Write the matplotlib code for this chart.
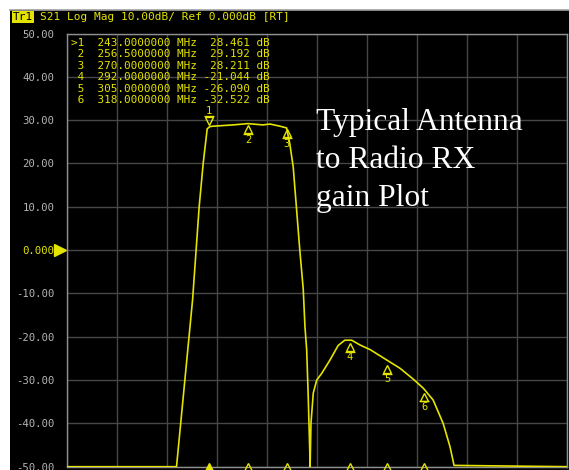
import numpy as np
import matplotlib.pyplot as plt
from matplotlib.patches import Rectangle
import matplotlib.transforms as mtransforms

# trace (MHz, dB)
freq = [193.4, 231.6, 237.2, 239.5, 240.9, 242.3, 243.2, 244.3, 251.3, 256.5,
        261.7, 264.2, 267.7, 270.0, 271.1, 272.3, 273.5, 274.6, 275.8, 276.4,
        277.0, 277.5, 278.1, 278.2, 278.5, 279.3, 280.5, 282.2, 285.1, 288.0,
        290.3, 292.7, 295.6, 299.2, 305.0, 309.6, 314.2, 317.7, 321.1, 324.6,
        327.0, 328.4, 367.8]
gain = [-50, -50, -11.5, 10, 20, 28, 28.5, 28.6, 28.9, 29.2,
        28.9, 29.1, 28.6, 28.2, 24.6, 19.2, 9.2, 0, -9, -17.7,
        -23, -33, -47, -50, -40, -33, -30, -28.5, -25.4, -22,
        -20.8, -20.8, -21.9, -23, -25.4, -27.3, -29.8, -31.9, -34.6, -40,
        -45.4, -49.7, -50]

mk_id = ['1', '2', '3', '4', '5', '6']
mk_freq = [243.0, 256.5, 270.0, 292.0, 305.0, 318.0]
mk_db = [28.461, 29.192, 28.211, -21.044, -26.090, -32.522]

yticks = [50, 40, 30, 20, 10, 0, -10, -20, -30, -40, -50]

W, H = 569, 470
YEL = '#e4e400'
GRAY = '#b4b4b4'
MONO = 'DejaVu Sans Mono'

fig = plt.figure(figsize=(W / 100, H / 100), dpi=100)
fig.patch.set_facecolor('white')
fig.add_artist(Rectangle((10 / W, 0), 1, (H - 10) / H, transform=fig.transFigure,
                         facecolor='black', edgecolor='none', zorder=-10))
fig.add_artist(plt.Line2D([10 / W, 1], [1 - 9.5 / H, 1 - 9.5 / H], transform=fig.transFigure,
                          color='#a0a0a0', lw=1.2, zorder=-5))

def fx(px):
    return px / W

def fy(py):
    return 1 - py / H

ax = fig.add_axes([fx(67), fy(466.7), fx(567) - fx(67), fy(33.5) - fy(466.7)])
ax.set_facecolor('black')
ax.set_xlim(193.4, 367.8)
ax.set_ylim(-50, 50)
ax.set_xticks(np.linspace(193.4, 367.8, 11))
ax.set_xticklabels([])
ax.set_yticks(yticks)
ax.set_yticklabels(['0.000' if v == 0 else '%.2f' % v for v in yticks],
                   family=MONO, fontsize=7.7, color=GRAY)
for lab in ax.get_yticklabels():
    if lab.get_text() == '0.000':
        lab.set_color(YEL)
ax.tick_params(length=0, pad=9)
ax.grid(True, color='#474747', lw=1)
for s in ax.spines.values():
    s.set_color('#909090')
    s.set_linewidth(1)

ax.plot(freq, gain, color=YEL, lw=1.2, zorder=3)

# reference level arrow
ax.plot([-0.014], [0], marker='>', ms=8, color=YEL, mec=YEL,
        transform=mtransforms.blended_transform_factory(ax.transAxes, ax.transData),
        clip_on=False)

# markers on trace
for i, (m, f, d) in enumerate(zip(mk_id, mk_freq, mk_db)):
    if i == 0:
        tr = mtransforms.offset_copy(ax.transData, fig=fig, x=0, y=4, units='points')
        trb = mtransforms.offset_copy(ax.transData, fig=fig, x=0, y=7.5, units='points')
        ax.plot([f], [d], marker='v', ms=6, mfc='none', mec=YEL, mew=1, transform=tr, zorder=4)
        ax.plot([f], [d], marker='_', ms=7, mec=YEL, mew=1, transform=trb, zorder=4)
        ax.annotate(m, (f, d), xytext=(0, 8), textcoords='offset points', ha='center',
                    va='bottom', color=YEL, family=MONO, fontsize=7.5)
    else:
        tr = mtransforms.offset_copy(ax.transData, fig=fig, x=0, y=-4, units='points')
        trb = mtransforms.offset_copy(ax.transData, fig=fig, x=0, y=-7.5, units='points')
        ax.plot([f], [d], marker='^', ms=6, mfc='none', mec=YEL, mew=1, transform=tr, zorder=4)
        ax.plot([f], [d], marker='_', ms=7, mec=YEL, mew=1, transform=trb, zorder=4)
        ax.annotate(m, (f, d), xytext=(0, -8), textcoords='offset points', ha='center',
                    va='top', color=YEL, family=MONO, fontsize=7.5)
    ax.plot([f], [-50], marker='^', ms=6, mfc=YEL if i == 0 else 'none', mec=YEL,
            mew=1, clip_on=False, zorder=5)

# marker table
for i, (m, f, d) in enumerate(zip(mk_id, mk_freq, mk_db)):
    lab = ('>' + m) if i == 0 else (' ' + m)
    fig.text(fx(71), fy(43 + 11.4 * i), '%s  %.7f MHz %7.3f dB' % (lab, f, d),
             family=MONO, fontsize=7.9, color=YEL, va='center', ha='left')

# header bar
fig.text(fx(13), fy(17), 'Tr1', family=MONO, fontsize=8, color='black', va='center',
         ha='left', bbox=dict(boxstyle='square,pad=0.1', facecolor=YEL, edgecolor='none'))
fig.text(fx(40), fy(17), 'S21 Log Mag 10.00dB/ Ref 0.000dB [RT]', family=MONO,
         fontsize=8, color=YEL, va='center', ha='left')

fig.text(fx(316), fy(108), 'Typical Antenna\nto Radio RX\ngain Plot', family='Liberation Serif',
         fontsize=22.7, color='white', va='top', ha='left', linespacing=1.42)

fig.savefig('out.png', dpi=100, facecolor=fig.get_facecolor())
